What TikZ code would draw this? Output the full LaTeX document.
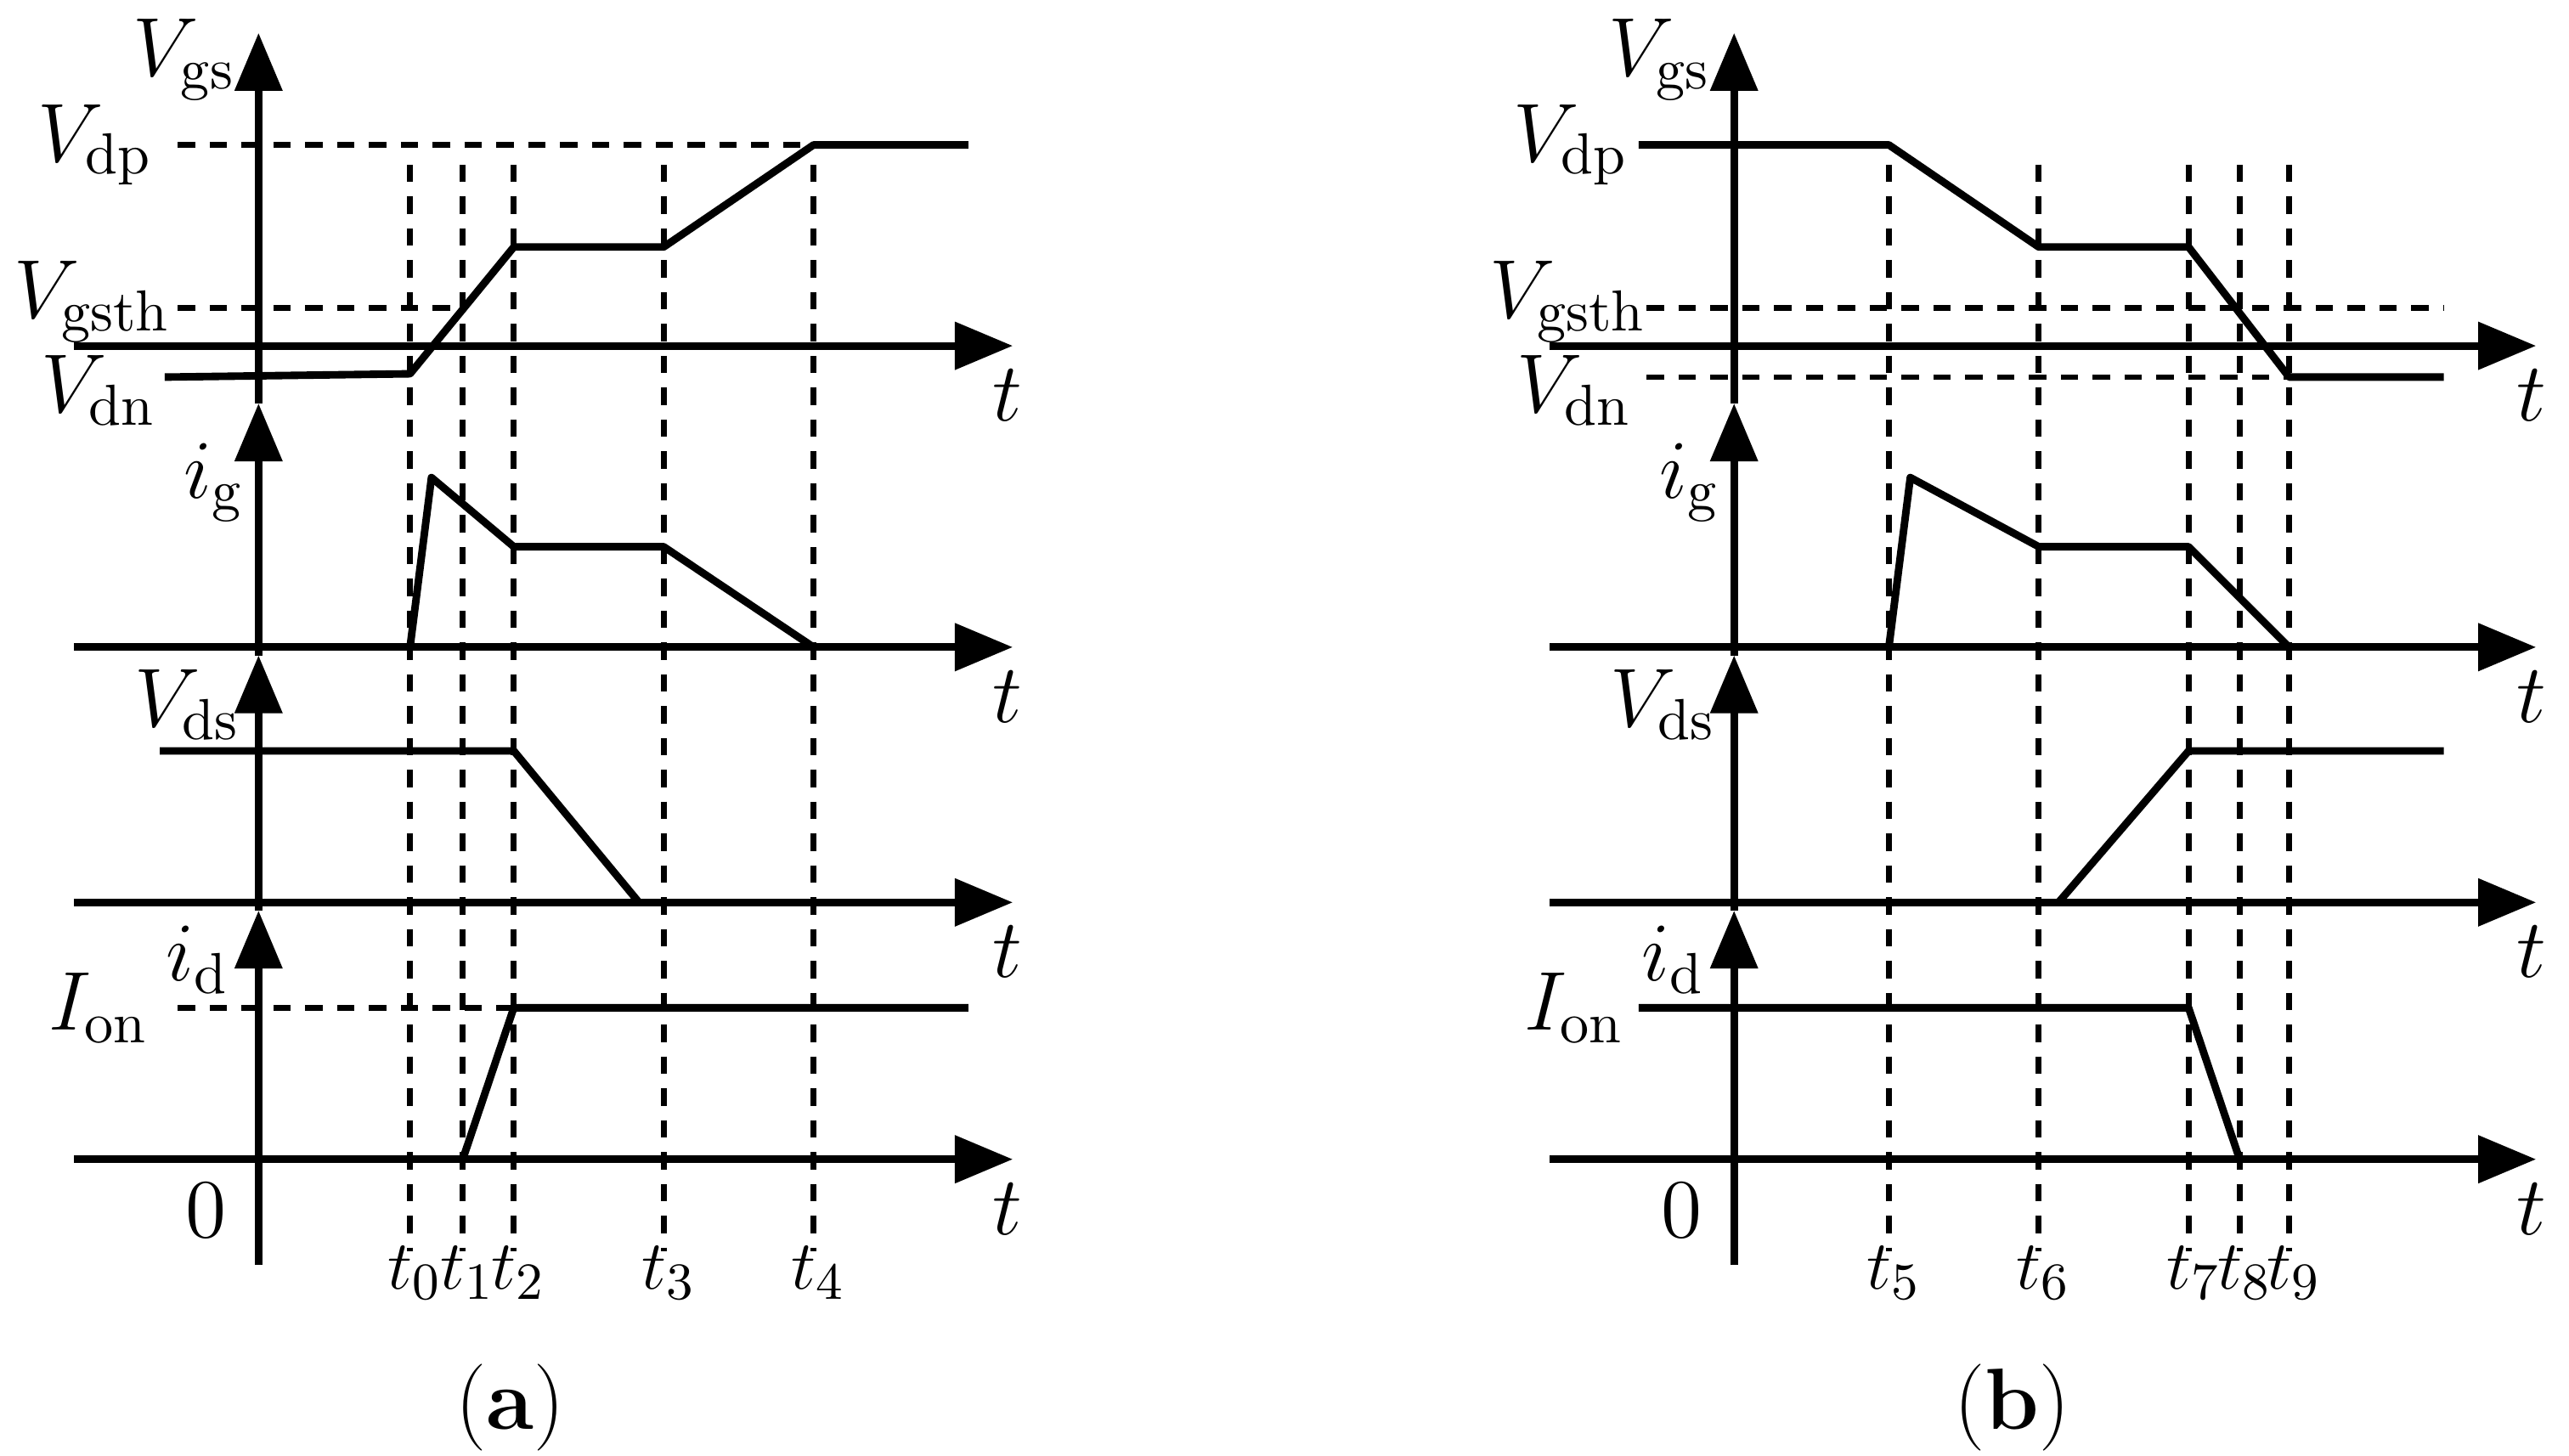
\documentclass[tikz,border=0pt]{standalone}
\usepackage{amsmath}
\usetikzlibrary{arrows.meta}
\tikzset{
  axis/.style={line width=1.3pt,-{Triangle[length=10pt,width=8pt]}},
  wave/.style={line width=1.3pt,line join=round},
  guide/.style={line width=1pt,dash pattern=on 3pt off 2.5pt},
  lab/.style={inner sep=0pt,font=\fontsize{14}{16}\selectfont},
  tlab/.style={inner sep=0pt,font=\fontsize{13}{15}\selectfont}
}
\begin{document}
\begin{tikzpicture}[x=0.01cm,y=-0.01cm]
\useasboundingbox (0,0) rectangle (1560,884);
% both panels share the axes
\foreach \dx/\tag/\xe in {0/a/615,896/b/644}{
\begin{scope}[xshift=\dx*0.01cm]
  \coordinate (o\tag) at (157,768);
  \draw[line width=1.3pt] (157,768) -- (157,560);
  \foreach \ya/\yb in {20/245,245/398,398/553,553/560}
    \draw[axis] (157,\yb) -- (157,\ya);
  \foreach \y/\n in {210/1,393/2,548/3,704/4}{
    \coordinate (h\tag\n) at (45,\y);
    \draw[axis] (h\tag\n) -- (\xe,\y);
    \node[lab] at (\xe-3,\y+30) {$t$};
  }
  \node[lab] at (112,36) {$V_{\mathrm{gs}}$};
  \node[lab] at (58,88) {$V_{\mathrm{dp}}$};
  \node[lab] at (56,183) {$V_{\mathrm{gsth}}$};
  \node[lab] at (60,237) {$V_{\mathrm{dn}}$};
  \node[lab] at (130,293) {$i_{\mathrm{g}}$};
  \node[lab] at (114,428) {$V_{\mathrm{ds}}$};
  \node[lab] at (120,583) {$i_{\mathrm{d}}$};
  \node[lab] at (60,612) {$I_{\mathrm{on}}$};
  \node[lab] at (125,735) {$0$};
\end{scope}
}
% panel (a): turn-on
\foreach \x/\n in {249/0,281/1,312/2,403/3,494/4}{
  \draw[guide] (\x,100) -- (\x,760);
  \node[tlab] (ta\n) at (\x+3,773) {$t_{\n}$};
}
\draw[guide] (108,88) -- (494,88);
\draw[guide] (108,187) -- (281,187);
\draw[guide] (108,612) -- (312,612);
\draw[wave] (100,229) -- (249,227) -- (312,150) -- (403,150) -- (494,88) -- (588,88);
\draw[wave] (249,393) -- (262,290) -- (312,332) -- (403,332) -- (494,393);
\draw[wave] (97,456) -- (312,456) -- (388,548);
\draw[wave] (281,704) -- (312,612) -- (588,612);
\node[lab,font=\fontsize{15}{17}\selectfont] (capa) at (310,855) {(\textbf{a})};
% panel (b): turn-off
\foreach \x/\n in {1147/5,1238/6,1329/7,1360/8,1390/9}{
  \draw[guide] (\x,100) -- (\x,760);
  \node[tlab] (tb\n) at (\x+3,773) {$t_{\n}$};
}
\draw[guide] (1000,187) -- (1484,187);
\draw[guide] (1000,229) -- (1390,229);
\draw[wave] (995,88) -- (1147,88) -- (1238,150) -- (1329,150) -- (1390,229) -- (1484,229);
\draw[wave] (1147,393) -- (1160,290) -- (1238,332) -- (1329,332) -- (1390,393);
\draw[wave] (1250,548) -- (1329,456) -- (1484,456);
\draw[wave] (995,612) -- (1329,612) -- (1360,704);
\node[lab,font=\fontsize{15}{17}\selectfont] (capb) at (1222,855) {(\textbf{b})};
\end{tikzpicture}
\end{document}
